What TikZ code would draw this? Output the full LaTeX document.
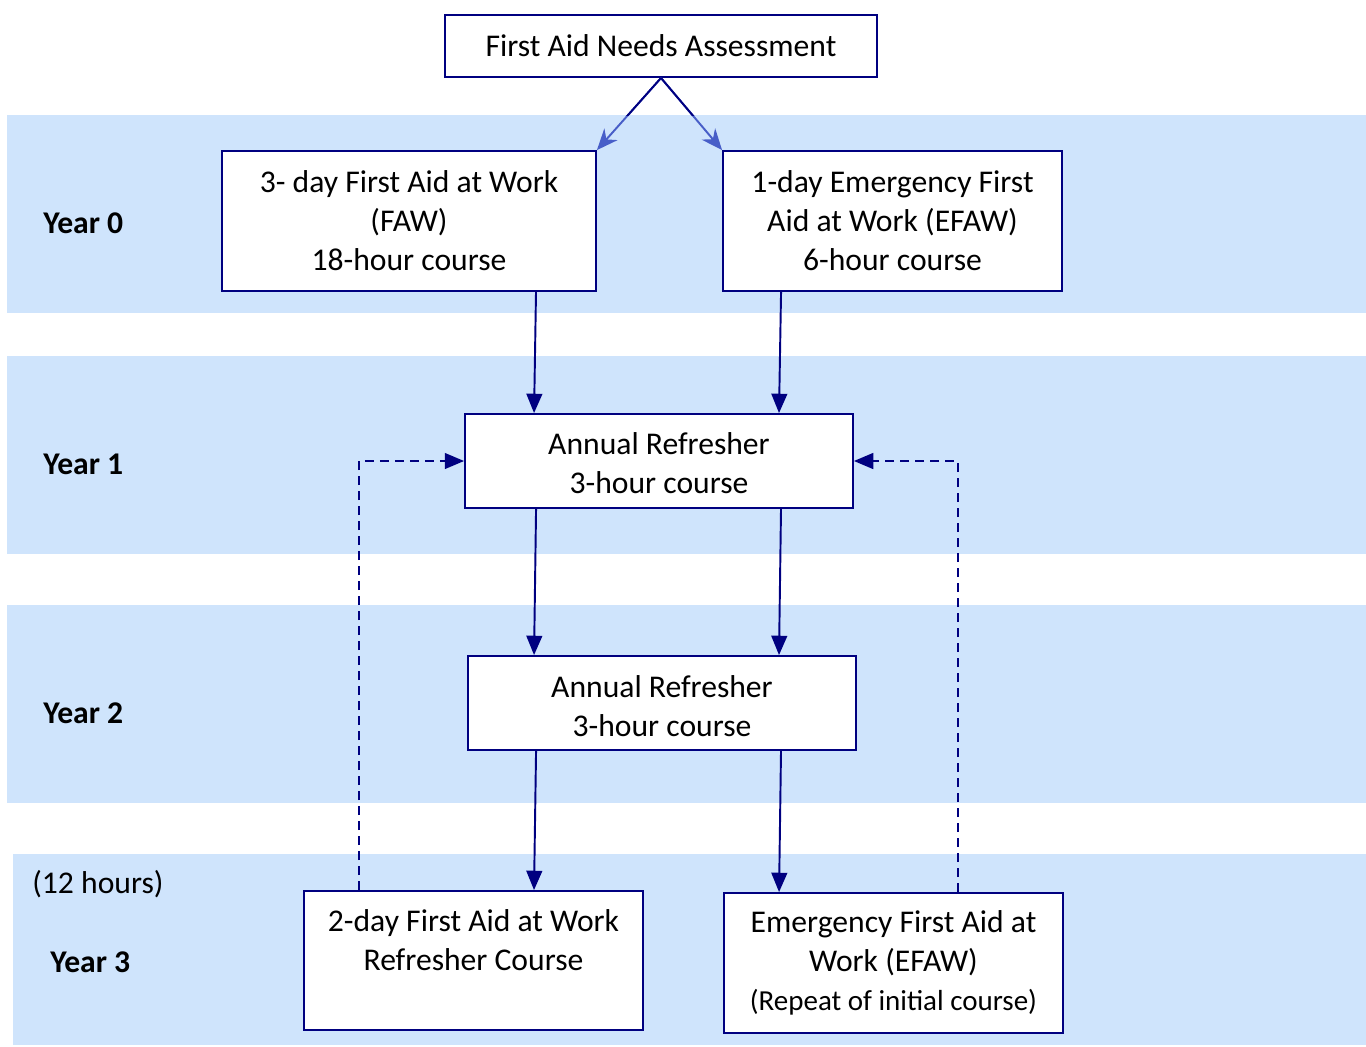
\documentclass[tikz,border=0pt]{standalone}
\usepackage{fontspec}
\setmainfont{Carlito}
\usetikzlibrary{arrows.meta}
\definecolor{band}{RGB}{207,228,252}
\definecolor{navy}{RGB}{0,0,128}
\definecolor{lightarrow}{RGB}{72,94,200}
\tikzset{
  box/.style={draw=navy, line width=1.1pt, fill=white, align=center, inner sep=0pt,
    font=\fontsize{18}{22.2}\selectfont},
  yearlbl/.style={anchor=west, inner sep=0pt, font=\fontsize{18}{22.2}\selectfont\bfseries},
  flow/.style={draw=navy, line width=1.1pt, -{Triangle[length=11pt,width=9pt]}, fill=navy},
  back/.style={draw=navy, line width=1.1pt, dash pattern=on 0.18cm off 0.12cm,
    -{Triangle[length=11pt,width=9pt]}},
  split/.style={draw=lightarrow, line width=1.1pt, -{Stealth[length=12pt,width=10pt]}, fill=lightarrow}
}
\begin{document}
\begin{tikzpicture}[x=0.02cm, y=-0.02cm]
\useasboundingbox (0,0) rectangle (1366,1046);
% bands
\fill[band] (7,115) rectangle (1366,313);
\fill[band] (7,356) rectangle (1366,554);
\fill[band] (7,605) rectangle (1366,803);
\fill[band] (13,854) rectangle (1366,1045);
% year labels
\node[yearlbl] (y0) at (43,223) {Year 0};
\node[yearlbl] (y1) at (43,464) {Year 1};
\node[yearlbl] (y2) at (43,713) {Year 2};
\node[yearlbl] (y3) at (50,962) {Year 3};
\node[anchor=west, inner sep=0pt, font=\fontsize{18}{22.2}\selectfont] (hrs) at (32,884) {(12 hours)};
% boxes
\node[box, minimum width=8.64cm, minimum height=1.24cm] (top) at (661,46) {First Aid Needs Assessment};
\node[box, minimum width=7.48cm, minimum height=2.8cm] (faw) at (409,221) {3- day First Aid at Work\\(FAW)\\18-hour course};
\node[box, minimum width=6.78cm, minimum height=2.8cm] (efaw) at (892.5,221) {1-day Emergency First\\Aid at Work (EFAW)\\6-hour course};
\node[box, minimum width=7.76cm, minimum height=1.88cm] (ar1) at (659,461) {\rule{0pt}{15pt}Annual Refresher\\3-hour course};
\node[box, minimum width=7.76cm, minimum height=1.88cm] (ar2) at (662,703) {\rule{0pt}{16.5pt}Annual Refresher\\3-hour course};
\node[box, minimum width=6.78cm, minimum height=2.78cm] (r3l) at (473.5,960.5) {\rule{0pt}{18.5pt}2-day First Aid at Work\\Refresher Course\\\strut};
\node[box, minimum width=6.78cm, minimum height=2.8cm] (r3r) at (893.5,963) {Emergency First Aid at\\Work (EFAW)\\{\fontsize{16.5}{20}\selectfont(Repeat of initial course)}};
% split arrows
\draw[split] (top.south) -- (faw.north east);
\draw[split] (top.south) -- (efaw.north west);
\begin{scope}
\clip (0,0) rectangle (1366,115);
\draw[navy, line width=1.1pt] (top.south) -- (faw.north east);
\draw[navy, line width=1.1pt] (top.south) -- (efaw.north west);
\end{scope}
% flow arrows
\draw[flow] ([xshift=6.30cm]faw.south west) -- ([xshift=1.40cm]ar1.north west);
\draw[flow] ([xshift=1.18cm]efaw.south west) -- ([xshift=6.30cm]ar1.north west);
\draw[flow] ([xshift=1.44cm]ar1.south west) -- ([xshift=1.34cm]ar2.north west);
\draw[flow] ([xshift=6.34cm]ar1.south west) -- ([xshift=6.24cm]ar2.north west);
\draw[flow] ([xshift=1.38cm]ar2.south west) -- ([xshift=4.62cm]r3l.north west);
\draw[flow] ([xshift=6.28cm]ar2.south west) -- ([xshift=1.12cm]r3r.north west);
% dashed back arrows
\draw[back] ([xshift=1.12cm]r3l.north west) |- (ar1.west);
\draw[back] ([xshift=4.70cm]r3r.north west) |- (ar1.east);
\end{tikzpicture}
\end{document}
